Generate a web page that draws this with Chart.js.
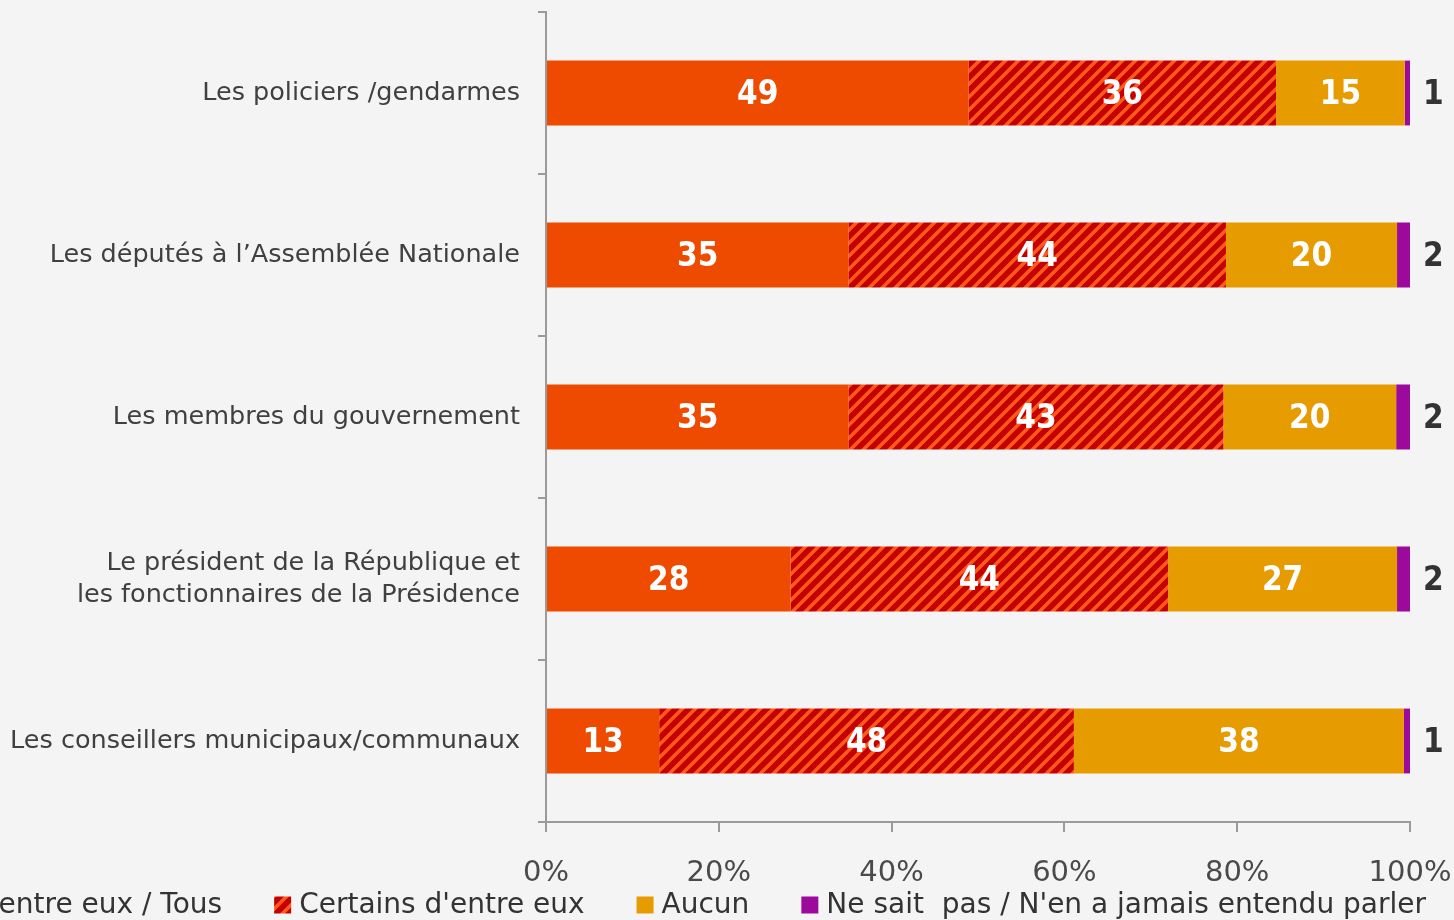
<!DOCTYPE html>
<html>
<head>
<meta charset="utf-8">
<script src="https://cdn.jsdelivr.net/npm/chart.js@4"></script>
<style>
  html, body { margin: 0; padding: 0; background: #f4f4f4; overflow: hidden; }
  #wrap { width: 1454px; height: 920px; position: relative; }
</style>
</head>
<body>
<div id="wrap"><canvas id="chart"></canvas></div>
<script>
// Categories (top to bottom)
const categories = [
  'Les policiers /gendarmes',
  'Les députés à l\u2019Assemblée Nationale',
  'Les membres du gouvernement',
  ['Le président de la République et', 'les fonctionnaires de la Présidence'],
  'Les conseillers municipaux/communaux'
]

// Series names (legend)
const seriesNames = [
  'La plupart d\'entre eux / Tous',
  'Certains d\'entre eux',
  'Aucun',
  'Ne sait  pas / N\'en a jamais entendu parler'
]

// Values in % (bar lengths, labels are rounded)
const tousValues = [48.9, 35.0, 35.0, 28.3, 13.1]
const certainsValues = [35.6, 43.7, 43.4, 43.7, 48.0]
const aucunValues = [14.9, 19.8, 20.0, 26.5, 38.2]
const nspValues = [0.6, 1.5, 1.6, 1.5, 0.7]

const xTickValues = [0, 20, 40, 60, 80, 100]

const FONT = "'DejaVu Sans', sans-serif"
const BOLD_FONT = "'DejaVu Sans Condensed', 'DejaVu Sans', sans-serif"

// Diagonal stripes for "Certains d'entre eux"
function makeHatch() {
  const s = 13
  const c = document.createElement('canvas')
  c.width = s
  c.height = s
  const g = c.getContext('2d')
  g.fillStyle = '#c50000'
  g.fillRect(0, 0, s, s)
  g.strokeStyle = '#ff5a1c'
  g.lineWidth = 3.6
  g.beginPath()
  g.moveTo(-2, 2); g.lineTo(2, -2)
  g.moveTo(-2, s + 2); g.lineTo(s + 2, -2)
  g.moveTo(s - 2, s + 2); g.lineTo(s + 2, s - 2)
  g.stroke()
  return g.createPattern(c, 'repeat')
}
const hatch = makeHatch()

const colors = ['#ee4b00', hatch, '#e69b00', '#9c0a9c']

// Value labels inside / next to the bars
const valueLabels = {
  id: 'valueLabels',
  afterDatasetsDraw(chart) {
    const ctx = chart.ctx
    ctx.save()
    ctx.font = "bold 33px " + BOLD_FONT
    ctx.textBaseline = 'middle'
    chart.data.datasets.forEach((ds, i) => {
      const meta = chart.getDatasetMeta(i)
      meta.data.forEach((bar, j) => {
        const txt = String(Math.round(ds.data[j]))
        if (i < 3) {
          ctx.fillStyle = '#ffffff'
          ctx.textAlign = 'center'
          ctx.fillText(txt, (bar.x + bar.base) / 2, bar.y + 2)
        } else {
          ctx.fillStyle = '#333333'
          ctx.textAlign = 'left'
          ctx.fillText(txt, bar.x + 13, bar.y + 2)
        }
      })
    })
    ctx.restore()
  }
}

// Legend along the bottom edge, laid out from the right
const bottomLegend = {
  id: 'bottomLegend',
  afterDraw(chart) {
    const ctx = chart.ctx
    ctx.save()
    ctx.font = "28px " + FONT
    ctx.textBaseline = 'middle'
    ctx.textAlign = 'left'
    const box = 17, boxGap = 8, itemGap = 52
    const y = 905
    let right = 1426
    for (let i = seriesNames.length - 1; i >= 0; i--) {
      const w = ctx.measureText(seriesNames[i]).width
      const tx = right - w
      const bx = tx - boxGap - box
      ctx.fillStyle = colors[i]
      ctx.fillRect(bx, y - box / 2, box, box)
      ctx.fillStyle = '#333333'
      ctx.fillText(seriesNames[i], tx, y + 1)
      right = bx - itemGap
    }
    ctx.restore()
  }
}

const datasets = [tousValues, certainsValues, aucunValues, nspValues].map((vals, i) => ({
  label: seriesNames[i],
  data: vals,
  backgroundColor: colors[i],
  borderWidth: 0,
  barPercentage: 0.4,
  categoryPercentage: 1.0
}))

new Chart(document.getElementById('chart'), {
  type: 'bar',
  data: { labels: categories, datasets: datasets },
  options: {
    indexAxis: 'y',
    responsive: true,
    maintainAspectRatio: false,
    animation: false,
    layout: { padding: { left: 0, right: 44, top: 12, bottom: 0 } },
    plugins: {
      legend: { display: false },
      tooltip: { enabled: false }
    },
    scales: {
      x: {
        stacked: true,
        min: 0,
        max: 100,
        afterFit: (scale) => {
          scale.height = 98
          scale.paddingLeft = 0
          scale.paddingRight = 0
        },
        afterBuildTicks: (scale) => { scale.ticks = xTickValues.map(v => ({ value: v })) },
        border: { color: '#9a9a9a', width: 2 },
        grid: { drawOnChartArea: false, drawTicks: true, tickLength: 10, color: '#9a9a9a', lineWidth: 2 },
        ticks: {
          padding: 24,
          color: '#4a4a4a',
          font: { family: FONT, size: 29 },
          callback: (v) => v + '%'
        }
      },
      y: {
        stacked: true,
        afterFit: (scale) => {
          scale.width = 546
          scale.paddingTop = 0
          scale.paddingBottom = 0
        },
        border: { color: '#9a9a9a', width: 2 },
        grid: { drawOnChartArea: false, drawTicks: true, tickLength: 8, color: '#9a9a9a', lineWidth: 2, offset: true },
        ticks: {
          padding: 18,
          color: '#404040',
          font: { family: FONT, size: 25.5, lineHeight: 1.25 }
        }
      }
    }
  },
  plugins: [valueLabels, bottomLegend]
})
</script>
</body>
</html>
